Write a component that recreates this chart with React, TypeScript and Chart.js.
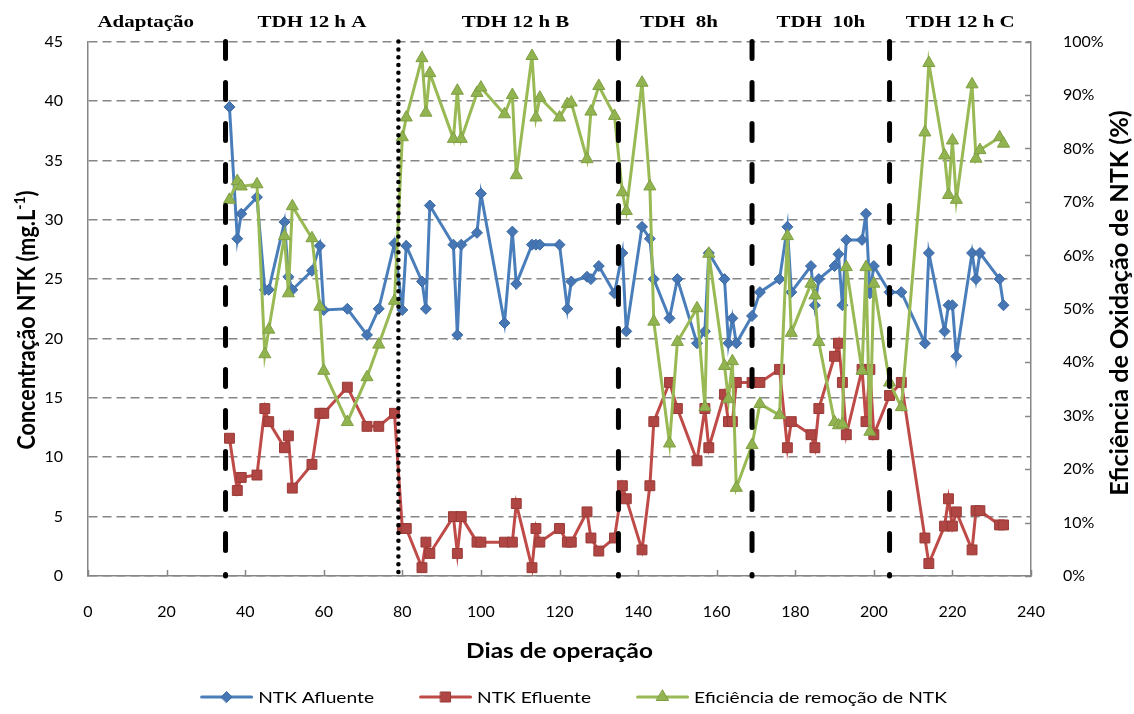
import React, { useEffect, useRef } from 'react';
import { Chart, registerables } from 'chart.js';

Chart.register(...registerables);

// Operating days with a sample
const days = [
  36, 38, 39, 43, 45, 46, 50, 51, 52, 57,
  59, 60, 66, 71, 74, 78, 80, 81, 85, 86,
  87, 93, 94, 95, 99, 100, 106, 108, 109, 113,
  114, 115, 120, 122, 123, 127, 128, 130, 134, 136,
  137, 141, 143, 144, 148, 150, 155, 157, 158, 162,
  163, 164, 165, 169, 171, 176, 178, 179, 184, 185,
  186, 190, 191, 192, 193, 197, 198, 199, 200, 204,
  207, 213, 214, 218, 219, 220, 221, 225, 226, 227,
  232, 233,
];

// NTK in the influent (mg/L)
const ntkAfluente = [
  39.5, 28.4, 30.5, 31.9, 24.1, 24.1, 29.8, 25.2, 24.1, 25.7,
  27.8, 22.4, 22.5, 20.3, 22.5, 28.0, 22.4, 27.8, 24.8, 22.5,
  31.2, 27.9, 20.3, 27.9, 28.9, 32.2, 21.3, 29.0, 24.6, 27.9,
  27.9, 27.9, 27.9, 22.5, 24.8, 25.2, 25.0, 26.1, 23.8, 27.2,
  20.6, 29.4, 28.4, 25.0, 21.7, 25.0, 19.6, 20.6, 27.2, 25.0,
  19.6, 21.7, 19.6, 21.9, 23.9, 25.0, 29.4, 23.9, 26.1, 22.8,
  25.0, 26.1, 27.1, 22.8, 28.3, 28.3, 30.5, 23.8, 26.1, 23.9,
  23.9, 19.6, 27.2, 20.6, 22.8, 22.8, 18.5, 27.2, 25.0, 27.2,
  25.0, 22.8,
];

// NTK in the effluent (mg/L)
const ntkEfluente = [
  11.6, 7.2, 8.3, 8.5, 14.1, 13.0, 10.8, 11.8, 7.4, 9.4,
  13.7, 13.7, 15.9, 12.6, 12.6, 13.7, 4.0, 4.0, 0.7, 2.85,
  1.9, 5.0, 1.9, 5.0, 2.85, 2.85, 2.85, 2.85, 6.1, 0.7,
  4.0, 2.85, 4.0, 2.85, 2.85, 5.4, 3.2, 2.1, 3.2, 7.6,
  6.5, 2.2, 7.6, 13.0, 16.3, 14.1, 9.7, 14.1, 10.8, 15.3,
  13.0, 13.0, 16.3, 16.3, 16.3, 17.4, 10.8, 13.0, 11.9, 10.8,
  14.1, 18.5, 19.6, 16.3, 11.9, 17.4, 13.0, 17.4, 11.9, 15.2,
  16.3, 3.2, 1.05, 4.2, 6.5, 4.2, 5.4, 2.2, 5.5, 5.5,
  4.3, 4.3,
];

// NTK removal efficiency (%)
const eficiencia = [
  70.4, 73.9, 72.9, 73.3, 41.5, 46.1, 63.6, 52.9, 69.2, 63.2,
  50.4, 38.4, 28.8, 37.2, 43.3, 51.5, 82.1, 85.8, 96.9, 86.7,
  94.1, 81.8, 90.8, 81.8, 90.4, 91.4, 86.4, 90.0, 75.0, 97.3,
  85.8, 89.5, 85.8, 88.3, 88.6, 78.0, 86.9, 91.7, 86.1, 71.8,
  68.3, 92.3, 72.9, 47.6, 24.8, 43.8, 50.1, 31.6, 60.3, 39.3,
  33.1, 40.2, 16.5, 24.5, 32.2, 30.1, 63.6, 45.5, 54.7, 52.5,
  43.8, 28.8, 28.2, 28.4, 57.8, 38.4, 57.8, 27.0, 54.7, 36.2,
  31.6, 83.0, 96.0, 78.7, 71.3, 81.5, 70.4, 92.0, 78.1, 79.7,
  82.1, 80.9,
];

// Operating phases: boundaries (day) and names
const phaseBoundaries = [35, 79, 135, 169, 204];
const dottedBoundary = 79;
const phaseNames = ['Adaptação', 'TDH 12 h A', 'TDH 12 h B', 'TDH  8h', 'TDH  10h', 'TDH 12 h C'];
const phaseLabelDays = [14.7, 57, 108.8, 150.4, 186.5, 222];

const seriesNames = ['NTK Afluente', 'NTK Efluente', 'Eficiência de remoção de NTK'];
const xTitle = 'Dias de operação';
const yTitleMain = 'Concentração NTK (mg.L';
const yTitleSup = '-1';
const yTitleEnd = ')';
const y1Title = 'Eficiência de Oxidação de NTK (%)';

const AXIS = '#868686';
const BLUE = { line: '#4A7EBB', fill: '#4677B4', border: '#3B69A3' };
const RED = { line: '#BE4B48', fill: '#AF4643', border: '#9A3B38' };
const GREEN = { line: '#98B954', fill: '#92B450', border: '#7F9F43' };

const toPoints = (vals: number[]) => vals.map((v, i) => ({ x: days[i], y: v }));

function markerPath(ctx: CanvasRenderingContext2D, kind: string, cx: number, cy: number) {
  ctx.beginPath();
  if (kind === 'diamond') {
    const r = 5.5;
    ctx.moveTo(cx - r, cy);
    ctx.lineTo(cx, cy - r);
    ctx.lineTo(cx + r, cy);
    ctx.lineTo(cx, cy + r);
  } else if (kind === 'square') {
    const h = 5;
    ctx.rect(cx - h, cy - h, 2 * h, 2 * h);
  } else {
    const r = 7;
    ctx.moveTo(cx, cy - r);
    ctx.lineTo(cx + r * Math.sin((2 * Math.PI) / 3), cy - r * Math.cos((2 * Math.PI) / 3));
    ctx.lineTo(cx + r * Math.sin((4 * Math.PI) / 3), cy - r * Math.cos((4 * Math.PI) / 3));
  }
  ctx.closePath();
}

const decorations = {
  id: 'decorations',
  afterDraw(chart: any) {
    const { ctx, chartArea, scales } = chart;
    const xs = scales.x;
    const yr = scales.y1;

    ctx.save();
    // inside tick marks on the bottom and right axes
    ctx.strokeStyle = AXIS;
    ctx.lineWidth = 1.5;
    ctx.beginPath();
    xs.ticks.forEach((t: any) => {
      const px = Math.round(xs.getPixelForValue(t.value)) + 0.5;
      ctx.moveTo(px, chartArea.bottom);
      ctx.lineTo(px, chartArea.bottom - 6);
    });
    yr.ticks.forEach((t: any) => {
      const py = Math.round(yr.getPixelForValue(t.value)) + 0.5;
      ctx.moveTo(chartArea.right, py);
      ctx.lineTo(chartArea.right - 6, py);
    });
    ctx.stroke();

    ctx.fillStyle = '#000';
    // phase names above the plot
    ctx.font = 'bold 16.5px "Liberation Serif", "Times New Roman", serif';
    ctx.textAlign = 'center';
    ctx.textBaseline = 'alphabetic';
    phaseNames.forEach((name, i) => {
      const px = xs.getPixelForValue(phaseLabelDays[i]);
      ctx.save();
      ctx.translate(px, 27);
      ctx.scale(1.27, 1);
      ctx.fillText(name, 0, 0);
      ctx.restore();
    });

    // x axis title
    ctx.save();
    ctx.font = 'bold 20px Lato, sans-serif';
    ctx.textBaseline = 'middle';
    ctx.textAlign = 'center';
    ctx.translate((chartArea.left + chartArea.right) / 2, 652);
    ctx.scale(1.22, 1);
    ctx.fillText(xTitle, 0, 0);
    ctx.restore();

    // left axis title with superscript
    ctx.save();
    ctx.translate(27, 320);
    ctx.rotate(-Math.PI / 2);
    ctx.scale(1.08, 1.2);
    ctx.textAlign = 'left';
    ctx.textBaseline = 'middle';
    ctx.font = 'bold 20px Lato, sans-serif';
    const w1 = ctx.measureText(yTitleMain).width;
    const w3 = ctx.measureText(yTitleEnd).width;
    ctx.font = 'bold 13px Lato, sans-serif';
    const w2 = ctx.measureText(yTitleSup).width;
    const start = -(w1 + w2 + w3) / 2;
    ctx.font = 'bold 20px Lato, sans-serif';
    ctx.fillText(yTitleMain, start, 0);
    ctx.fillText(yTitleEnd, start + w1 + w2, 0);
    ctx.font = 'bold 13px Lato, sans-serif';
    ctx.fillText(yTitleSup, start + w1, -6);
    ctx.restore();

    // right axis title, reading bottom to top
    ctx.save();
    ctx.translate(1120, 303);
    ctx.rotate(-Math.PI / 2);
    ctx.scale(1.23, 1.2);
    ctx.textAlign = 'center';
    ctx.textBaseline = 'middle';
    ctx.font = 'bold 20.5px Lato, sans-serif';
    ctx.fillText(y1Title, 0, 0);
    ctx.restore();

    // legend
    const styles = [
      { c: BLUE, kind: 'diamond' },
      { c: RED, kind: 'square' },
      { c: GREEN, kind: 'triangle' },
    ];
    const sample = 53;
    const gapText = 5;
    const gapItem = 45;
    const sx = 1.2;
    ctx.font = '16px Lato, sans-serif';
    const widths = seriesNames.map((n) => ctx.measureText(n).width * sx);
    const total = widths.reduce((a, w) => a + sample + gapText + w, 0) + gapItem * (seriesNames.length - 1);
    let lx = 573.5 - total / 2;
    const ly = 697;
    seriesNames.forEach((name, i) => {
      const s = styles[i];
      ctx.strokeStyle = s.c.line;
      ctx.lineWidth = 3;
      ctx.lineCap = 'round';
      ctx.beginPath();
      ctx.moveTo(lx + 1.5, ly);
      ctx.lineTo(lx + sample - 1.5, ly);
      ctx.stroke();
      markerPath(ctx, s.kind, lx + sample / 2, ly);
      ctx.fillStyle = s.c.fill;
      ctx.fill();
      ctx.lineWidth = 1;
      ctx.strokeStyle = s.c.border;
      ctx.stroke();
      ctx.save();
      ctx.fillStyle = '#000';
      ctx.textAlign = 'left';
      ctx.textBaseline = 'middle';
      ctx.translate(lx + sample + gapText, ly + 1);
      ctx.scale(sx, 1);
      ctx.fillText(name, 0, 0);
      ctx.restore();
      lx += sample + gapText + widths[i] + gapItem;
    });

    ctx.restore();
  },
};

export default function App() {
  const canvasRef = useRef<HTMLCanvasElement>(null);

  useEffect(() => {
    document.body.style.margin = '0';
    const canvas = canvasRef.current;
    if (!canvas) return;

    const phaseSets = phaseBoundaries.map((d) => {
      const dotted = d === dottedBoundary;
      return {
        type: 'line' as const,
        label: '',
        data: [
          { x: d, y: 45 },
          { x: d, y: 0 },
        ],
        yAxisID: 'y',
        borderColor: '#000',
        borderWidth: dotted ? 4.5 : 5,
        borderDash: dotted ? [0, 7.8] : [17, 24],
        borderCapStyle: 'round' as const,
        pointRadius: 0,
        clip: false as any,
        order: 0,
      };
    });

    const chart = new Chart(canvas, {
      type: 'line',
      data: {
        datasets: [
          ...phaseSets,
          {
            label: seriesNames[2],
            data: toPoints(eficiencia),
            yAxisID: 'y1',
            borderColor: GREEN.line,
            borderWidth: 3,
            pointStyle: 'triangle',
            pointRadius: 7,
            pointBackgroundColor: GREEN.fill,
            pointBorderColor: GREEN.border,
            pointBorderWidth: 1,
            order: 1,
          },
          {
            label: seriesNames[1],
            data: toPoints(ntkEfluente),
            yAxisID: 'y',
            borderColor: RED.line,
            borderWidth: 3,
            pointStyle: 'rect',
            pointRadius: 7,
            pointBackgroundColor: RED.fill,
            pointBorderColor: RED.border,
            pointBorderWidth: 1,
            order: 2,
          },
          {
            label: seriesNames[0],
            data: toPoints(ntkAfluente),
            yAxisID: 'y',
            borderColor: BLUE.line,
            borderWidth: 3,
            pointStyle: 'rectRot',
            pointRadius: 5.5,
            pointBackgroundColor: BLUE.fill,
            pointBorderColor: BLUE.border,
            pointBorderWidth: 1,
            order: 3,
          },
        ],
      },
      options: {
        responsive: false,
        animation: false,
        devicePixelRatio: 1,
        layout: { padding: { top: 35, bottom: 50, left: 0, right: 0 } },
        elements: { line: { tension: 0 } },
        plugins: { legend: { display: false }, tooltip: { enabled: false } },
        scales: {
          x: {
            type: 'linear',
            min: 0,
            max: 240,
            ticks: { stepSize: 20, padding: 26, color: '#000', font: { family: 'Lato', size: 16 } },
            grid: { display: false, drawTicks: false },
            border: { display: true, color: AXIS, width: 1.5 },
            afterFit: (s: any) => {
              s.height = 88;
            },
          },
          y: {
            type: 'linear',
            position: 'left',
            min: 0,
            max: 45,
            ticks: { stepSize: 5, padding: 25, color: '#000', font: { family: 'Lato', size: 16 } },
            grid: { color: AXIS, lineWidth: 1.5, drawTicks: false },
            border: { display: true, color: AXIS, width: 1.5, dash: [9, 5] },
            afterFit: (s: any) => {
              s.width = 88;
            },
          },
          y1: {
            type: 'linear',
            position: 'right',
            min: 0,
            max: 100,
            ticks: {
              stepSize: 10,
              padding: 32,
              color: '#000',
              font: { family: 'Lato', size: 16 },
              callback: (v: any) => `${v}%`,
            },
            grid: { display: false, drawTicks: false },
            border: { display: true, color: AXIS, width: 1.5 },
            afterFit: (s: any) => {
              s.width = 103;
            },
          },
        },
      },
      plugins: [decorations],
    });

    return () => chart.destroy();
  }, []);

  return (
    <div style={{ position: 'fixed', left: 0, top: 0, width: 1134, height: 714, background: '#fff' }}>
      <canvas ref={canvasRef} width={1134} height={714} style={{ display: 'block', width: 1134, height: 714 }} />
    </div>
  );
}
